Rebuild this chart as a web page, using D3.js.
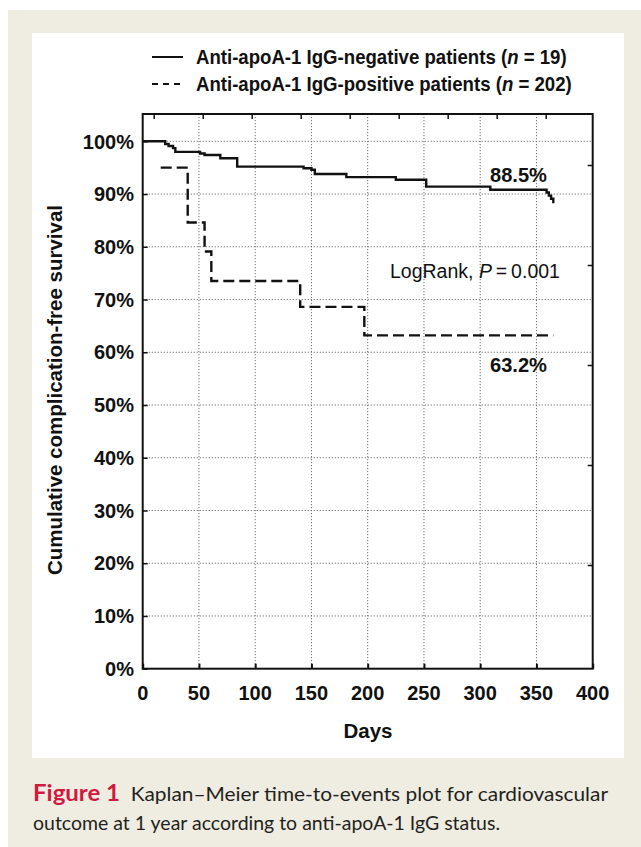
<!DOCTYPE html>
<html>
<head>
<meta charset="utf-8">
<script src="https://cdn.jsdelivr.net/npm/d3@7"></script>
<style>
  html, body { margin: 0; padding: 0; background: #fff; }
  svg { display: block; }
</style>
</head>
<body>
<div id="chart"></div>
<script>
// anti-apoA-1 IgG-negative group (solid): day of each step and survival after it
const negDays = [0, 20, 23, 27, 29, 51, 55, 69, 84, 143, 150, 153, 181, 225, 252, 309, 359, 361, 363, 365];
const negSurv = [1.000, 0.995, 0.991, 0.987, 0.980, 0.977, 0.974, 0.968, 0.952, 0.949, 0.946, 0.938, 0.932, 0.927, 0.914, 0.908, 0.903, 0.897, 0.891, 0.885];
const negLastDay = 366;

// anti-apoA-1 IgG-positive group (dashed)
const posDays = [16, 40, 55, 61, 140, 197];
const posSurv = [0.950, 0.846, 0.791, 0.735, 0.686, 0.632];
const posLastDay = 365;

const xTicks = [0, 50, 100, 150, 200, 250, 300, 350, 400];
const yTicks = [0, 0.1, 0.2, 0.3, 0.4, 0.5, 0.6, 0.7, 0.8, 0.9, 1.0];

const legendLabels = [
  ["Anti-apoA-1 IgG-negative patients (", "n", " = 19)"],
  ["Anti-apoA-1 IgG-positive patients (", "n", " = 202)"]
];
const endLabels = ["88.5%", "63.2%"];
const yTitle = "Cumulative complication-free survival";
const xTitle = "Days";
const captionHead = "Figure 1";
const captionLines = [
  "Kaplan\u2013Meier time-to-events plot for cardiovascular",
  "outcome at 1 year according to anti-apoA-1 IgG status."
];

const width = 641, height = 847;
const box = { left: 142.7, right: 592.7, top: 114, bottom: 668.7 };
const font = "'Liberation Sans', Arial, sans-serif";
const ink = "#111";

const svg = d3.select("#chart").append("svg")
  .attr("width", width)
  .attr("height", height);

// page background: beige band with white figure panel
svg.append("rect").attr("x", 8).attr("y", 10).attr("width", width - 8).attr("height", height - 10)
  .attr("fill", "#efece1");
svg.append("rect").attr("x", 32).attr("y", 33).attr("width", 592).attr("height", 725)
  .attr("fill", "#fff");

const x = d3.scaleLinear().domain([0, 400]).range([box.left, box.right]);
const y = d3.scaleLinear().domain([0, 1]).range([box.bottom, 141.3]);

// dotted grid
const grid = svg.append("g")
  .attr("stroke", "#6f6f6f")
  .attr("stroke-width", 1)
  .attr("stroke-dasharray", "1.2,1.8");
grid.selectAll("line.v")
  .data(xTicks.filter(d => d > 0 && d < 400))
  .enter().append("line")
  .attr("x1", d => x(d)).attr("x2", d => x(d))
  .attr("y1", box.top).attr("y2", box.bottom);
grid.selectAll("line.h")
  .data(yTicks.filter(d => d > 0))
  .enter().append("line")
  .attr("x1", box.left).attr("x2", box.right)
  .attr("y1", d => y(d)).attr("y2", d => y(d));

// inward ticks on bottom and left
const bottomAxis = d3.axisTop(x).tickValues(xTicks).tickSize(5).tickFormat("");
svg.append("g").attr("transform", `translate(0,${box.bottom})`).call(bottomAxis)
  .call(g => g.select(".domain").remove())
  .selectAll("line").attr("stroke", ink).attr("stroke-width", 2);
const leftAxis = d3.axisRight(y).tickValues(yTicks).tickSize(5).tickFormat("");
svg.append("g").attr("transform", `translate(${box.left},0)`).call(leftAxis)
  .call(g => g.select(".domain").remove())
  .selectAll("line").attr("stroke", ink).attr("stroke-width", 1.5);

// mirror ticks on top and right (offset in the original figure)
const xTop = d3.scaleLinear().domain([0, 400]).range([153.7, 545.7]);
svg.append("g").attr("transform", `translate(0,${box.top})`)
  .call(d3.axisBottom(xTop).tickValues(xTicks).tickSize(5).tickFormat(""))
  .call(g => g.select(".domain").remove())
  .selectAll("line").attr("stroke", ink).attr("stroke-width", 1.5);
const yRight = d3.scaleLinear().domain([0, 1]).range([665, 165]);
svg.append("g").attr("transform", `translate(${box.right},0)`)
  .call(d3.axisLeft(yRight).tickValues([0.2, 0.4, 0.6, 0.8, 1.0]).tickSize(5).tickFormat(""))
  .call(g => g.select(".domain").remove())
  .selectAll("line").attr("stroke", ink).attr("stroke-width", 1.5);

// frame
svg.append("rect")
  .attr("x", box.left).attr("y", box.top)
  .attr("width", box.right - box.left).attr("height", box.bottom - box.top)
  .attr("fill", "none").attr("stroke", ink).attr("stroke-width", 2);

// tick labels
svg.append("g").selectAll("text")
  .data(yTicks)
  .enter().append("text")
  .attr("x", 134)
  .attr("y", d => y(d))
  .attr("dy", "0.36em")
  .attr("text-anchor", "end")
  .attr("font-family", font).attr("font-weight", "bold").attr("font-size", 20)
  .attr("fill", ink)
  .text(d => d3.format(".0%")(d));
svg.append("g").selectAll("text")
  .data(xTicks)
  .enter().append("text")
  .attr("x", d => x(d))
  .attr("y", 700)
  .attr("text-anchor", "middle")
  .attr("font-family", font).attr("font-weight", "bold").attr("font-size", 20)
  .attr("fill", ink)
  .text(d => d);

// axis titles
svg.append("text")
  .attr("transform", "translate(62,390) rotate(-90)")
  .attr("text-anchor", "middle")
  .attr("font-family", font).attr("font-weight", "bold").attr("font-size", 20.5)
  .attr("fill", ink)
  .attr("textLength", 370).attr("lengthAdjust", "spacingAndGlyphs")
  .text(yTitle);
svg.append("text")
  .attr("x", 368).attr("y", 738)
  .attr("text-anchor", "middle")
  .attr("font-family", font).attr("font-weight", "bold").attr("font-size", 20.5)
  .attr("fill", ink)
  .text(xTitle);

// survival curves as step functions
const stepLine = d3.line()
  .x(d => x(d[0]))
  .y(d => y(d[1]))
  .curve(d3.curveStepAfter);

const negPts = negDays.map((d, i) => [d, negSurv[i]]);
negPts.push([negLastDay, negSurv[negSurv.length - 1]]);
const posPts = posDays.map((d, i) => [d, posSurv[i]]);
posPts.push([posLastDay, posSurv[posSurv.length - 1]]);

svg.append("path")
  .datum(negPts)
  .attr("d", stepLine)
  .attr("fill", "none").attr("stroke", ink).attr("stroke-width", 2.4);
svg.append("path")
  .datum(posPts)
  .attr("d", stepLine)
  .attr("fill", "none").attr("stroke", ink).attr("stroke-width", 2.4)
  .attr("stroke-dasharray", "11,5");

// end-of-curve values and log-rank result
svg.append("text")
  .attr("x", 490).attr("y", 182)
  .attr("font-family", font).attr("font-weight", "bold").attr("font-size", 21)
  .attr("fill", ink)
  .attr("textLength", 57).attr("lengthAdjust", "spacingAndGlyphs")
  .text(endLabels[0]);
svg.append("text")
  .attr("x", 490).attr("y", 372)
  .attr("font-family", font).attr("font-weight", "bold").attr("font-size", 21)
  .attr("fill", ink)
  .attr("textLength", 57).attr("lengthAdjust", "spacingAndGlyphs")
  .text(endLabels[1]);
const lr = svg.append("text")
  .attr("x", 390).attr("y", 278)
  .attr("font-family", font).attr("font-size", 19.5)
  .attr("fill", ink);
lr.append("tspan").text("LogRank, ");
lr.append("tspan").attr("font-style", "italic").text("P");
lr.append("tspan").text("\u2009=\u20090.001");

// legend: text squeezed horizontally (the original face is narrower)
const legendWidths = [371, 376];
const legend = svg.append("g");
legendLabels.forEach((parts, i) => {
  const ly = 57 + i * 27;
  legend.append("line")
    .attr("x1", 152).attr("x2", 183)
    .attr("y1", ly).attr("y2", ly)
    .attr("stroke", ink).attr("stroke-width", 2)
    .attr("stroke-dasharray", i === 0 ? null : "6,5");
  const holder = legend.append("g");
  const t = holder.append("text")
    .attr("font-family", font).attr("font-weight", "bold").attr("font-size", 19.5)
    .attr("fill", ink);
  t.append("tspan").text(parts[0]);
  t.append("tspan").attr("font-style", "italic").text(parts[1]);
  t.append("tspan").text(parts[2]);
  const len = t.node().getComputedTextLength();
  const sx = len > 0 ? legendWidths[i] / len : 1;
  holder.attr("transform", `translate(196,${ly + 7}) scale(${sx},1)`);
});

// caption below the figure
const capFont = "Lato, 'Open Sans', sans-serif";
const cap1 = svg.append("text")
  .attr("x", 33).attr("y", 801)
  .attr("font-family", capFont).attr("font-size", 20)
  .attr("fill", "#231f20");
cap1.append("tspan").attr("font-weight", "bold").attr("fill", "#cf1a40")
  .attr("font-size", 23).text(captionHead);
cap1.append("tspan").text("\u00a0\u00a0" + captionLines[0]);
const cap2 = svg.append("text")
  .attr("x", 33).attr("y", 830)
  .attr("font-family", capFont).attr("font-size", 20)
  .attr("fill", "#231f20")
  .text(captionLines[1]);

// stretch caption lines to the widths used in the original
function fitTo(sel, target) {
  const len = sel.node().getComputedTextLength();
  if (len > 0) sel.attr("textLength", target).attr("lengthAdjust", "spacingAndGlyphs");
}
fitTo(cap1, 575);
fitTo(cap2, 467);
</script>
</body>
</html>
